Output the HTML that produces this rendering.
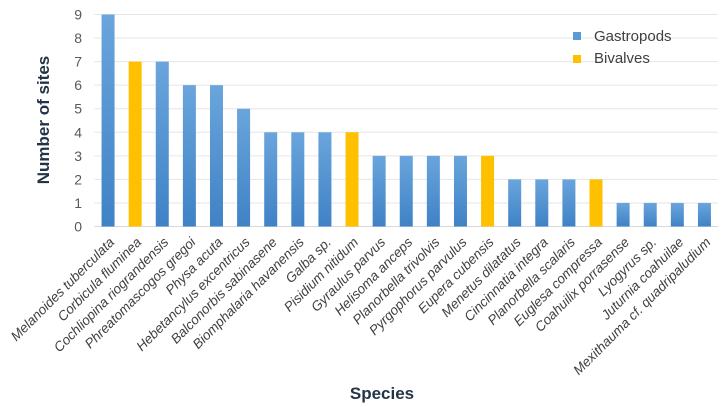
<!DOCTYPE html>
<html><head><meta charset="utf-8"><style>
body{margin:0;background:#fff;}
svg{display:block;font-family:"Liberation Sans",sans-serif;}
</style></head><body>
<svg id="chart" width="727" height="407">
<defs>
<linearGradient id="bg" x1="0" y1="0" x2="0" y2="1"><stop offset="0" stop-color="#6aa5dc"/><stop offset="1" stop-color="#3f82c6"/></linearGradient>
</defs>
<g id="grid"></g><g id="bars"></g><g id="xl"></g><g id="yl"></g>
<text x="0" y="0" transform="translate(49,120) rotate(-90)" text-anchor="middle" font-size="17" font-weight="bold" fill="#243447">Number of sites</text>
<text x="382" y="399" text-anchor="middle" font-size="17" font-weight="bold" fill="#243447">Species</text>
<g>
<rect x="573" y="32" width="8" height="8" fill="#5b9bd5"/>
<text x="594" y="41" font-size="15" fill="#404040">Gastropods</text>
<rect x="573" y="55" width="8" height="8" fill="#ffc000"/>
<text x="594" y="63" font-size="15" fill="#404040">Bivalves</text>
</g>
</svg>
<script>
const species=["Melanoides tuberculata","Corbicula fluminea","Cochliopina riograndensis","Phreatomascogos gregoi","Physa acuta","Hebetancylus excentricus","Balconorbis sabinasene","Biomphalaria havanensis","Galba sp.","Pisidium nitidum","Gyraulus parvus","Helisoma anceps","Planorbella trivolvis","Pyrgophorus parvulus","Eupera cubensis","Menetus dilatatus","Cincinnatia integra","Planorbella scalaris","Euglesa compressa","Coahuilix porrasense","Lyogyrus sp.","Juturnia coahuilae","Mexithauma cf. quadripaludium"];
const sites=[9,7,7,6,6,5,4,4,4,4,3,3,3,3,3,2,2,2,2,1,1,1,1];
const groups=["G","B","G","G","G","G","G","G","G","B","G","G","G","G","B","G","G","G","B","G","G","G","G"];
const yTicks=[0,1,2,3,4,5,6,7,8,9];
const NS="http://www.w3.org/2000/svg";
const x0=94.5,x1=718,y0=226.5,y9=14.5;
const bw=(x1-x0)/species.length;
const xs=i=>x0+bw*(i+0.5);
const ys=v=>y0-(y0-y9)*v/9;
function mk(t,a,p){const e=document.createElementNS(NS,t);for(const k in a)e.setAttribute(k,a[k]);p.appendChild(e);return e;}
const G=document.getElementById('grid'),B=document.getElementById('bars'),XL=document.getElementById('xl'),YL=document.getElementById('yl');
yTicks.forEach(v=>{
 const l=mk('line',{x1:x0,x2:x1,y1:ys(v),y2:ys(v),stroke:v===0?'#d9d9d9':'#e6e6e6','stroke-width':1},G);
 
 
 const t=mk('text',{x:82,y:ys(v)+5,'text-anchor':'end','font-size':14,fill:'#595959'},YL);
 t.textContent=v;
 
 
});
species.forEach((s,i)=>{
 const r=mk('rect',{x:xs(i)-6.5,y:ys(sites[i]),width:13,height:y0-ys(sites[i]),fill:groups[i]==='B'?'#ffc000':'url(#bg)'},B);
 
 
 const t=mk('text',{x:0,y:0,transform:`translate(${xs(i)+7},${243}) rotate(-45)`,'text-anchor':'end','font-size':13.5,'font-style':'italic',fill:'#404040'},XL);
 t.textContent=s;
 
 
});
</script>
</body></html>
